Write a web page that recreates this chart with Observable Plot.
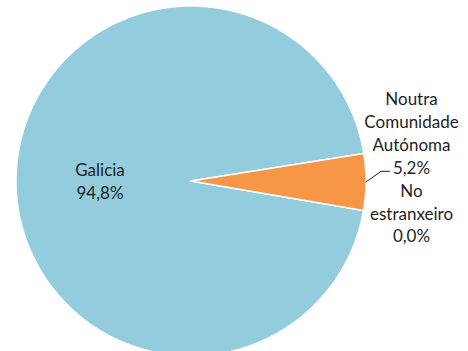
<!DOCTYPE html>
<html><head><meta charset="utf-8">
<script src="https://cdn.jsdelivr.net/npm/d3@7"></script>
<script src="https://cdn.jsdelivr.net/npm/@observablehq/plot@0.6"></script>
<style>html,body{margin:0;padding:0;background:#fff;overflow:hidden}#chart svg{display:block}</style>
</head><body><div id="chart"></div>
<script>
const categories = ["Galicia", "Noutra Comunidade Autónoma", "No estranxeiro"];
const labelLines = [["Galicia"], ["Noutra", "Comunidade", "Autónoma"], ["No", "estranxeiro"]];
const values = [94.8, 5.2, 0.0];
const valueLabels = ["94,8%", "5,2%", "0,0%"];
const colors = ["#93CDDD", "#F79646", "#A5A5A5"];

const W = 468, H = 351;
const cx = 190.5, cy = 180.5, R = 175;   // pie centre / radius in px
const startAngle = 99.7;                  // first slice, degrees clockwise from 12 o'clock
const total = d3.sum(values);

const pt = (deg, r) => {
  const a = deg * Math.PI / 180;
  return {x: r * Math.sin(a), y: r * Math.cos(a)};
};

let acc = startAngle;
const slices = categories.map((c, i) => {
  const a0 = acc, a1 = acc + values[i] / total * 360;
  acc = a1;
  return {name: c, i, a0, a1, mid: (a0 + a1) / 2};
});

const marks = [];
slices.forEach(s => {
  if (s.a1 - s.a0 <= 0) return;
  const n = Math.max(2, Math.ceil((s.a1 - s.a0) / 0.5));
  const poly = [{x: 0, y: 0}];
  for (let k = 0; k <= n; k++) poly.push(pt(s.a0 + (s.a1 - s.a0) * k / n, 1));
  poly.push({x: 0, y: 0});
  marks.push(Plot.line(poly, {x: "x", y: "y", fill: colors[s.i], stroke: "white", strokeWidth: 1.5, strokeLinejoin: "round"}));
});

const px = 1 / R; // one pixel in data units
const fontFamily = "Lato, 'Open Sans', sans-serif";
const textColor = "#1e1e1e";

// Inside label (Galicia)
const g = slices[0];
const gp = pt(g.mid, 0.52);
marks.push(Plot.text([{...gp, t: labelLines[0].concat(valueLabels[0]).join("\n")}], {
  x: "x", y: "y", text: "t", fontSize: 17, lineHeight: 1.35, fill: textColor, fontFamily
}));

// Outside labels share an anchor on the small slice's bisector
const o = slices[1];
const anchor = pt(o.mid, 1.26);
marks.push(Plot.text([{...anchor, t: labelLines[1].concat(valueLabels[1]).join("\n")}], {
  x: "x", y: "y", text: "t", fontSize: 17, lineHeight: 1.35, lineAnchor: "bottom", dy: -8, fill: textColor, fontFamily
}));
marks.push(Plot.text([{...anchor, t: labelLines[2].concat(valueLabels[2]).join("\n")}], {
  x: "x", y: "y", text: "t", fontSize: 17, lineHeight: 1.35, lineAnchor: "top", dy: -2, fill: textColor, fontFamily
}));

// Leader line from the slice edge to the label
const edge = pt(o.mid, 1.0);
const leader = [
  edge,
  {x: edge.x + 15 * px, y: anchor.y + 11 * px},
  {x: edge.x + 23.5 * px, y: anchor.y + 11 * px}
];
marks.push(Plot.line(leader, {x: "x", y: "y", stroke: "#1e1e1e", strokeWidth: 1}));

const chart = Plot.plot({
  width: W, height: H, margin: 0,
  x: {domain: [-cx / R, (W - cx) / R], axis: null},
  y: {domain: [-(H - cy) / R, cy / R], axis: null},
  style: {background: "white", overflow: "hidden"},
  marks
});
document.getElementById("chart").append(chart);
</script>
</body></html>
